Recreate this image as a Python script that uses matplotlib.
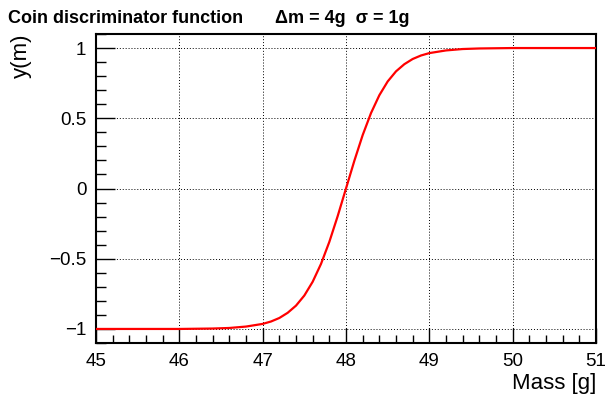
import matplotlib
matplotlib.use("Agg")
import matplotlib.pyplot as plt
from matplotlib.ticker import MultipleLocator

plt.rcParams['font.family'] = ['Liberation Sans', 'DejaVu Sans']

# values
mass = [45.0, 46.0, 46.4, 46.6, 46.8, 47.0, 47.1, 47.2, 47.3, 47.4, 47.5, 47.6,
        47.7, 47.8, 47.9, 48.0, 48.1, 48.2, 48.3, 48.4, 48.5, 48.6, 48.7, 48.8,
        48.9, 49.0, 49.2, 49.4, 49.6, 50.0, 51.0]
y_disc = [-1.0, -1.0, -0.997, -0.993, -0.983, -0.964, -0.947, -0.922, -0.885,
          -0.834, -0.762, -0.664, -0.537, -0.380, -0.197, 0.0, 0.197, 0.380,
          0.537, 0.664, 0.762, 0.834, 0.885, 0.922, 0.947, 0.964, 0.983, 0.993,
          0.997, 1.0, 1.0]

fig = plt.figure(figsize=(6.07, 3.94), dpi=100)
ax = fig.add_axes([96 / 607, 1 - 343 / 394, 500 / 607, 309 / 394])

ax.plot(mass, y_disc, color='red', linewidth=1.6, zorder=3)

ax.set_xlim(45, 51)
ax.set_ylim(-1.1, 1.1)
ax.xaxis.set_major_locator(MultipleLocator(1))
ax.xaxis.set_minor_locator(MultipleLocator(0.2))
ax.yaxis.set_minor_locator(MultipleLocator(0.1))
ax.set_yticks([-1, -0.5, 0, 0.5, 1])
ax.set_yticklabels(['\u22121', '\u22120.5', '0', '0.5', '1'])

ax.tick_params(axis='both', which='both', direction='in', labelsize=13.5,
               width=1.0, pad=7, top=False, right=False)
ax.tick_params(axis='x', which='major', length=11)
ax.tick_params(axis='x', which='minor', length=5.5)
ax.tick_params(axis='y', which='major', length=14)
ax.tick_params(axis='y', which='minor', length=7)

ax.grid(True, which='major', color='black', linestyle=(0, (1, 2)), linewidth=0.7)

for side in ax.spines.values():
    side.set_linewidth(1.5)

ax.set_xlabel('Mass [g]', fontsize=16, loc='right', labelpad=2)
ax.set_ylabel('y(m)', fontsize=16, loc='top', labelpad=12)

fig.text(8 / 607, 1 - 23 / 394, 'Coin discriminator function', fontsize=13,
         fontweight='bold', va='baseline', ha='left')
fig.text(275 / 607, 1 - 23 / 394, '\u0394m = 4g  \u03c3 = 1g', fontsize=13,
         fontweight='bold', va='baseline', ha='left')

fig.savefig('out.png', dpi=100)
